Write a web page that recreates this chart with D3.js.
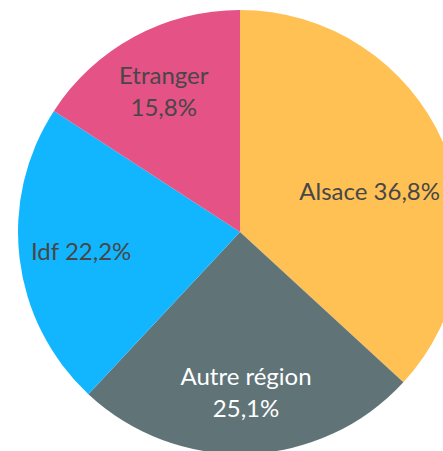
<!doctype html>
<html lang="fr">
<head>
  <meta charset="utf-8">
  <script src="https://cdn.jsdelivr.net/npm/d3@7"></script>
  <style>
    html, body { margin: 0; padding: 0; background: #fff; overflow: hidden; }
    text { font-family: Lato, "Open Sans", sans-serif; }
  </style>
</head>
<body>
  <script>
    // donnees
    var categories = ["Alsace", "Autre région", "Idf", "Etranger"];
    var values = [36.8, 25.1, 22.2, 15.8];
    var colors = ["#ffc154", "#607478", "#12b6ff", "#e55286"];
    var textColors = ["#474747", "#ffffff", "#474747", "#474747"];
    // libelles sur une ou deux lignes, comme dans l'original
    var labelLines = [
      ["Alsace 36,8%"],
      ["Autre région", "25,1%"],
      ["Idf 22,2%"],
      ["Etranger", "15,8%"]
    ];

    var w = 443, h = 451;
    var cx = 240, cy = 232, radius = 222;
    var labelRadius = 160;
    var fontSize = 24, lineHeight = 32;

    var data = categories.map(function(c, i) {
      return { name: c, value: values[i], color: colors[i], text: textColors[i], lines: labelLines[i] };
    });

    var svg = d3.select("body").append("svg")
      .attr("width", w)
      .attr("height", h);

    var g = svg.append("g")
      .attr("transform", "translate(" + cx + "," + cy + ")");

    var pie = d3.pie()
      .sort(null)
      .value(function(d) { return d.value; });

    var arc = d3.arc().innerRadius(0).outerRadius(radius);
    var labelArc = d3.arc().innerRadius(labelRadius).outerRadius(labelRadius);

    var arcs = pie(data);

    g.selectAll("path")
      .data(arcs)
      .enter().append("path")
      .attr("d", arc)
      .style("fill", function(d) { return d.data.color; });

    var labels = g.selectAll("text.label")
      .data(arcs)
      .enter().append("text")
      .attr("class", "label")
      .attr("text-anchor", "middle")
      .style("font-size", fontSize + "px")
      .style("fill", function(d) { return d.data.text; });

    labels.each(function(d) {
      var t = d3.select(this);
      var n = d.data.lines.length;
      d.data.lines.forEach(function(line, k) {
        t.append("tspan")
          .attr("x", 0)
          .attr("y", (k - (n - 1) / 2) * lineHeight + fontSize * 0.36)
          .text(line);
      });
    });

    // comme Excel : si le libelle deborde a droite, on le ramene dans le cadre
    labels.attr("transform", function(d) {
      var c = labelArc.centroid(d);
      var bw = this.getBBox().width;
      var x = c[0], y = c[1];
      var maxX = w - cx - 3 - bw / 2;
      if (x > maxX) {
        x = maxX;
        y = y + 24;
      }
      return "translate(" + x + "," + y + ")";
    });
  </script>
</body>
</html>
